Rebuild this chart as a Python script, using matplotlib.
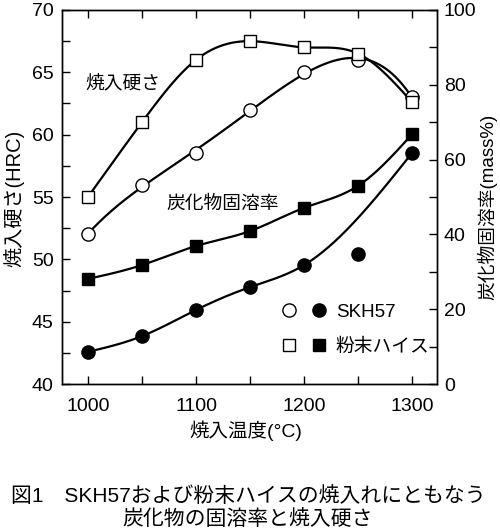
import numpy as np
import matplotlib
matplotlib.use("Agg")
import matplotlib.pyplot as plt
from matplotlib.lines import Line2D
from matplotlib.legend_handler import HandlerTuple

plt.rcParams['font.family'] = ['Liberation Sans', 'Noto Sans CJK JP', 'DejaVu Sans']

# ---- data ----
temps = [1000, 1050, 1100, 1150, 1200, 1250, 1300]
hard_skh57 = [52.0, 56.0, 58.5, 62.0, 65.0, 66.0, 63.0]       # 焼入硬さ SKH57 (HRC)
hard_powder = [55.0, 61.0, 66.0, 67.5, 67.0, 66.5, 62.6]      # 焼入硬さ 粉末ハイス (HRC)
diss_skh57 = [8.6, 12.8, 19.8, 25.9, 31.8, 34.8, 61.8]        # 炭化物固溶率 SKH57 (mass%)
diss_powder = [28.1, 31.8, 36.9, 40.9, 47.1, 53.0, 66.8]      # 炭化物固溶率 粉末ハイス (mass%)
skh57_diss_on_curve = [True, True, True, True, True, False, True]

xticks = [1000, 1100, 1200, 1300]
left_ticks = [40, 45, 50, 55, 60, 65, 70]
right_ticks = [0, 20, 40, 60, 80, 100]


def natural_spline(x, y, xs):
    x = np.asarray(x, float); y = np.asarray(y, float)
    n = len(x); h = np.diff(x)
    A = np.zeros((n, n)); b = np.zeros(n)
    A[0, 0] = 1; A[-1, -1] = 1
    for i in range(1, n - 1):
        A[i, i - 1] = h[i - 1]; A[i, i] = 2 * (h[i - 1] + h[i]); A[i, i + 1] = h[i]
        b[i] = 3 * ((y[i + 1] - y[i]) / h[i] - (y[i] - y[i - 1]) / h[i - 1])
    c = np.linalg.solve(A, b)
    bb = (y[1:] - y[:-1]) / h - h * (2 * c[:-1] + c[1:]) / 3
    d = (c[1:] - c[:-1]) / (3 * h)
    idx = np.clip(np.searchsorted(x, xs) - 1, 0, n - 2)
    dx = xs - x[idx]
    return y[idx] + bb[idx] * dx + c[idx] * dx ** 2 + d[idx] * dx ** 3


xs = np.linspace(temps[0], temps[-1], 400)

fig = plt.figure(figsize=(5.0, 5.31), dpi=100)
ax = fig.add_axes([0.124, 0.2768, 0.75, 0.7044])
ax2 = ax.twinx()

lw = 1.6
# hardness curves (left axis)
tc = (np.asarray(temps) - 1150) / 100.0
p = np.polyfit(tc, hard_skh57, 4)
ax.plot(xs, np.polyval(p, (xs - 1150) / 100.0), color='black', lw=lw)
ax.plot(xs, natural_spline(temps, hard_powder, xs), color='black', lw=lw)
ax.plot(temps, hard_skh57, 'o', ms=9.5, mfc='white', mec='black', mew=1.0)
ax.plot(temps, hard_powder, 's', ms=9, mfc='white', mec='black', mew=1.0)

# dissolution curves (right axis)
tx = [t for t, k in zip(temps, skh57_diss_on_curve) if k]
ty = [v for v, k in zip(diss_skh57, skh57_diss_on_curve) if k]
ax2.plot(xs, natural_spline(tx, ty, xs), color='black', lw=lw)
ax2.plot(xs, natural_spline(temps, diss_powder, xs), color='black', lw=lw)
ax2.plot(temps, diss_skh57, 'o', ms=9.5, mfc='black', mec='black')
ax2.plot(temps, diss_powder, 's', ms=9, mfc='black', mec='black')

ax.set_xlim(976, 1323)
ax.set_ylim(40, 70)
ax2.set_ylim(0, 100)
ax.set_xticks(xticks)
ax.set_xticks([1050, 1150, 1250], minor=True)
ax.set_yticks(left_ticks)
ax.set_yticks(np.arange(42.5, 70, 5), minor=True)
ax2.set_yticks(right_ticks)
ax2.set_yticks(np.arange(10, 100, 20), minor=True)

fs = 14
ax.tick_params(axis='x', which='both', direction='in', top=True, length=6, width=1, labelsize=fs, pad=10)
ax.tick_params(axis='y', which='both', direction='in', length=6, width=1, labelsize=fs, pad=6)
ax2.tick_params(axis='y', which='both', direction='in', length=6, width=1, labelsize=fs, pad=5)
for a in (ax, ax2):
    for s in a.spines.values():
        s.set_linewidth(1.0)

ax.set_xlabel('焼入温度(°C)', fontsize=14)
ax.xaxis.set_label_coords(0.49, -0.124)
ax.xaxis.label.set_va('center')
ax.set_ylabel('焼入硬さ(HRC)', fontsize=14.5)
ax.yaxis.set_label_coords(-0.128, 0.497)
ax.yaxis.label.set_va('center'); ax.yaxis.label.set_ha('center')
ax2.set_ylabel('炭化物固溶率(mass%)', fontsize=13.5, rotation=90)
ax2.yaxis.set_label_coords(1.135, 0.473)
ax2.yaxis.label.set_va('center'); ax2.yaxis.label.set_ha('center')

ax.text(998, 64.1, '焼入硬さ', fontsize=13.5, ha='left', va='center')
ax.text(1073, 54.4, '炭化物固溶率', fontsize=13.5, ha='left', va='center')

# legend
oc = Line2D([], [], ls='none', marker='o', ms=9.5, mfc='white', mec='black', mew=1.0)
fc = Line2D([], [], ls='none', marker='o', ms=9.5, mfc='black', mec='black')
osq = Line2D([], [], ls='none', marker='s', ms=9, mfc='white', mec='black', mew=1.0)
fsq = Line2D([], [], ls='none', marker='s', ms=9, mfc='black', mec='black')
ax2.legend([(oc, fc), (osq, fsq)], ['SKH57', '粉末ハイス'],
           handler_map={tuple: HandlerTuple(ndivide=None, pad=0)},
           loc='upper left', bbox_to_anchor=(0.565, 0.215), frameon=False,
           numpoints=1, handlelength=3.2, handletextpad=0.1, labelspacing=0.95,
           borderpad=0, borderaxespad=0, fontsize=13.5)

fig.text(0.496, 1 - 496 / 531, '図1　SKH57および粉末ハイスの焼入れにともなう', fontsize=15,
         ha='center', va='center')
fig.text(0.496, 1 - 520 / 531, '炭化物の固溶率と焼入硬さ', fontsize=15, ha='center', va='center')

fig.savefig('out.png', dpi=100)
